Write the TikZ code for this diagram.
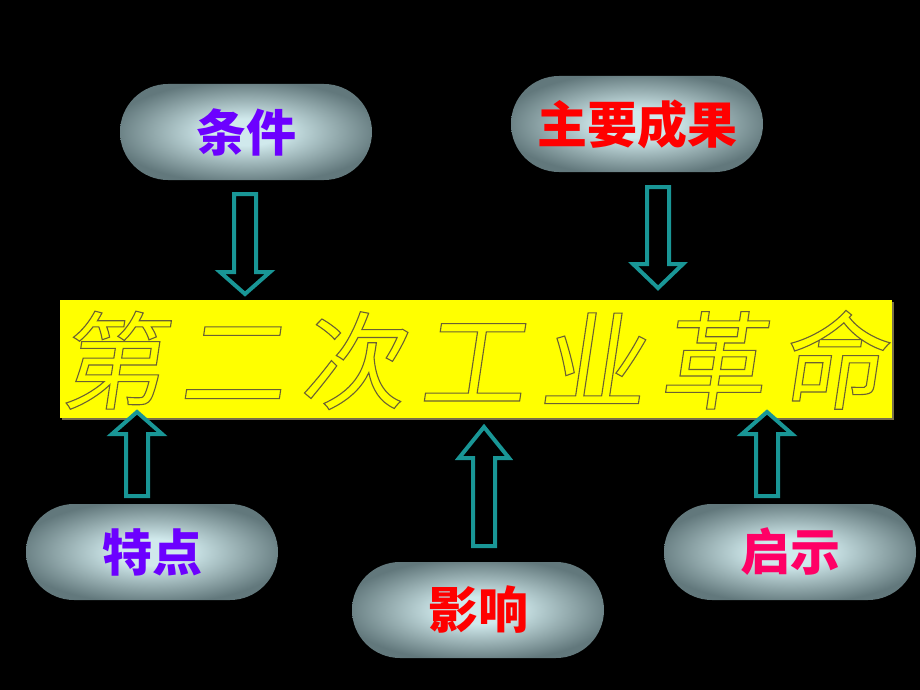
\documentclass[tikz,border=0pt]{standalone}
\usepackage{fontspec}
\usetikzlibrary{shapes.misc}
\newfontfamily\cjk{Noto Sans CJK SC}
\newfontfamily\titlefont{Noto Sans CJK SC}[FakeSlant=0.15,LetterSpace=13.2]
\definecolor{pc}{RGB}{208,233,236}
\definecolor{pm}{RGB}{148,171,174}
\definecolor{po}{RGB}{98,120,124}
\definecolor{arrteal}{RGB}{25,150,150}
\definecolor{titleyellow}{RGB}{255,255,0}
\definecolor{embdark}{RGB}{120,108,62}
\definecolor{violetx}{RGB}{108,0,255}
\definecolor{redx}{RGB}{255,0,0}
\definecolor{pinkx}{RGB}{255,0,102}
\pgfdeclareradialshading{pillshade}{\pgfpoint{0bp}{0bp}}{color(0bp)=(pc);color(7bp)=(pc);color(18bp)=(pm);color(27bp)=(po);color(50bp)=(po)}
\newcommand\embossstart{\special{pdf:literal direct 2 Tr 1.1 w 0.42 0.38 0.2 RG}}
\newcommand\embossstop{\special{pdf:literal direct 0 Tr}}
\begin{document}
\begin{tikzpicture}[x=1pt,y=-1pt,
  pill/.style={rounded rectangle, minimum width=252pt, minimum height=96pt, inner sep=0pt,
    shading=pillshade, font=\cjk\bfseries\fontsize{50}{50}\selectfont},
  arr/.style={draw=arrteal, line width=4pt, fill=black, line join=miter},
  tchar/.style={inner sep=0pt, font=\titlefont\fontsize{106}{106}\selectfont}
]
\useasboundingbox (0,0) rectangle (920,690);
\fill[black] (0,0) rectangle (920,690);

% title band
\fill[embdark!80!gray] (62,302) rectangle (894,420);
\node[fill=titleyellow, minimum width=832pt, minimum height=118pt, inner sep=0pt] (title) at (476,359) {};
\node[tchar, text=titleyellow] (titletext) at (472,360) {\embossstart 第二次工业革命\embossstop};

% pills
\node[pill, text=violetx] (tiaojian) at (246,132) {条件};
\node[pill, text=redx] (chengguo) at (637,124) {主要成果};
\node[pill, text=violetx] (tedian) at (152,552) {特点};
\node[pill, text=redx] (yingxiang) at (478,610) {影响};
\node[pill, text=pinkx] (qishi) at (790,552) {启示};

% block arrows: #1 centre x, #2 tail y, #3 head base y, #4 tip y
\newcommand\blockarr[4]{%
  \draw[arr] (#1-11,#2) -- (#1+11,#2) -- (#1+11,#3) -- (#1+25,#3) -- (#1,#4)
    -- (#1-25,#3) -- (#1-11,#3) -- cycle;}
\blockarr{245}{194}{272}{294}
\blockarr{658}{187}{264}{288}
\blockarr{137}{496}{434}{412}
\blockarr{484}{546}{458}{427}
\blockarr{767}{496}{434}{412}
\end{tikzpicture}
\end{document}
